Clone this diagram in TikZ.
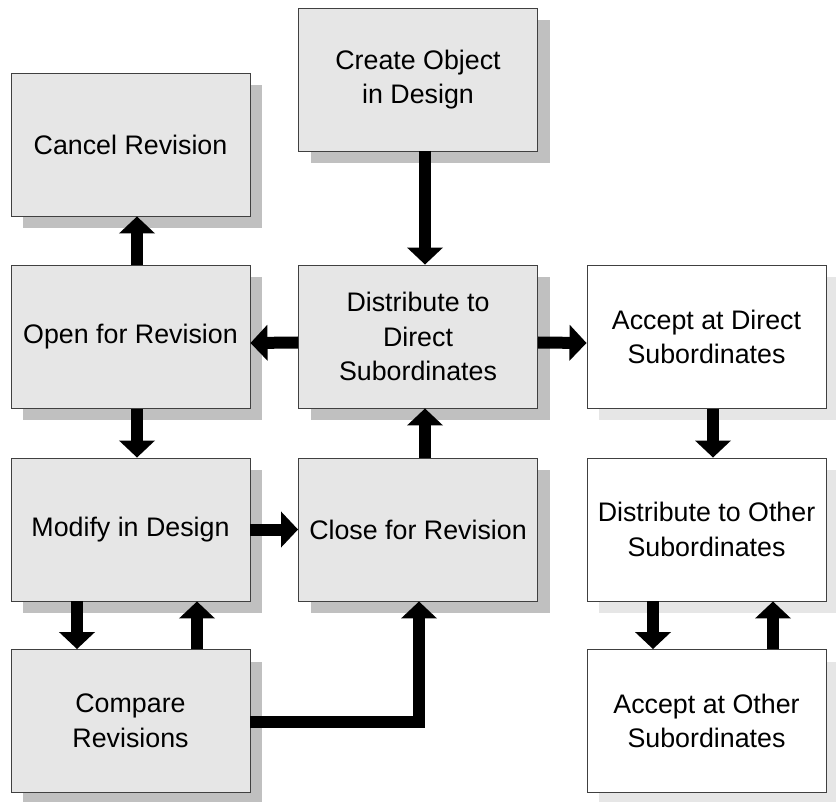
\documentclass[tikz,border=0pt]{standalone}
\usepackage{fontspec}
\setmainfont{Liberation Sans}
\usetikzlibrary{arrows.meta,shadows}
\definecolor{boxgrey}{HTML}{E6E6E6}
\definecolor{shadegrey}{HTML}{C0C0C0}
\definecolor{shadelight}{HTML}{E6E6E6}
\definecolor{edgegrey}{HTML}{404040}
\tikzset{
  stage/.style={draw=edgegrey, line width=0.9pt, minimum width=239pt,
    minimum height=143pt, align=center, inner sep=2pt,
    font=\fontsize{26.8}{34.5}\selectfont},
  greystage/.style={stage, fill=boxgrey,
    drop shadow={shadow xshift=12pt, shadow yshift=-12pt, fill=shadegrey, opacity=1}},
  whitestage/.style={stage, fill=white,
    drop shadow={shadow xshift=12pt, shadow yshift=-12pt, fill=shadelight, opacity=1}},
  flow/.style={line width=12pt, line join=miter, draw=black,
    -{Triangle[width=35pt,length=17pt]}}
}
\begin{document}
\begin{tikzpicture}[x=1pt,y=-1pt]
\useasboundingbox (0,0) rectangle (836,802);

% left column
\node[greystage]  (cancel)  at (130.5,144.5) {Cancel Revision};
\node[greystage]  (open)    at (130.5,337)   {Open for Revision};
\node[greystage]  (modify)  at (130.5,529.5) {Modify in Design};
\node[greystage]  (compare) at (130.5,721)   {Compare\\Revisions};

% middle column
\node[greystage]  (create)  at (418,79.5)    {Create Object\\in Design};
\node[greystage]  (distd)   at (418,336.5)   {Distribute to\\Direct\\Subordinates};
\node[greystage]  (close)   at (418,529.5)   {Close for Revision};

% right column
\node[whitestage] (acceptd) at (706.5,337)   {Accept at Direct\\Subordinates};
\node[whitestage] (disto)   at (706.5,529.5) {Distribute to Other\\Subordinates};
\node[whitestage] (accepto) at (706.5,721)   {Accept at Other\\Subordinates};

% connectors
\draw[flow] ([xshift=7pt]create.south) -- ([xshift=7pt]distd.north);
\draw[flow] ([xshift=6.5pt]open.north) -- ([xshift=6.5pt]cancel.south);
\draw[flow] ([yshift=-6pt]distd.west) -- ([yshift=-6pt]open.east);
\draw[flow] ([yshift=-6pt]distd.east) -- ([yshift=-6pt]acceptd.west);
\draw[flow] ([xshift=6.5pt]open.south) -- ([xshift=6.5pt]modify.north);
\draw[flow] (modify.east) -- (close.west);
\draw[flow] ([xshift=7pt]close.north) -- ([xshift=7pt]distd.south);
\draw[flow] ([xshift=-53.5pt]modify.south) -- ([xshift=-53.5pt]compare.north);
\draw[flow] ([xshift=66.5pt]compare.north) -- ([xshift=66.5pt]modify.south);
\draw[flow] ([yshift=-1pt]compare.east) -| ([xshift=1pt]close.south);
\draw[flow] ([xshift=6.5pt]acceptd.south) -- ([xshift=6.5pt]disto.north);
\draw[flow] ([xshift=-53.5pt]disto.south) -- ([xshift=-53.5pt]accepto.north);
\draw[flow] ([xshift=66.5pt]accepto.north) -- ([xshift=66.5pt]disto.south);
\end{tikzpicture}
\end{document}
